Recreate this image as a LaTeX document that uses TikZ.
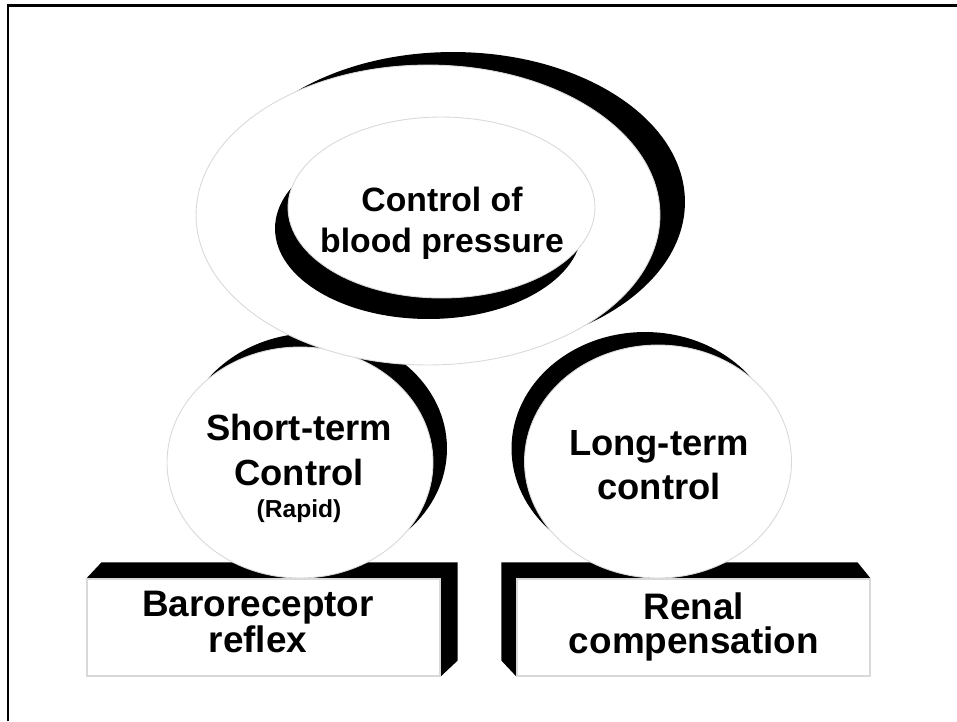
\documentclass[tikz,border=0pt]{standalone}
\usepackage{fontspec}
\setmainfont{Liberation Sans}
\usetikzlibrary{shapes.geometric,shadows,backgrounds}

\begin{document}
\begin{tikzpicture}[x=0.02cm, y=-0.02cm,
    oval/.style={ellipse, inner sep=0pt, fill=white, draw=gray!30, line width=0.5pt},
    facebox/.style={rectangle, inner sep=0pt, fill=white, draw=gray!30, line width=0.7pt,
        minimum width=7.06cm, minimum height=1.94cm},
    bigtext/.style={align=center, inner sep=0pt, font=\bfseries\fontsize{20.7}{25.2}\selectfont},
    boxtext/.style={align=center, inner sep=0pt, font=\bfseries\fontsize{21}{19.3}\selectfont}]
    \useasboundingbox (0,0) rectangle (957,721);

    % Frame
    \draw[line width=1.4pt] (8,721) -- (8,5.5) -- (957,5.5);

    % Boxes
    \node[facebox] (baro) at (263.5,627.5) {};
    \node[facebox] (renal) at (693.5,627.5) {};
    \begin{scope}[on background layer]
        \fill (baro.north west) -- ++(15,-16) -- ([shift={(17,-16)}]baro.north east)
            -- ([shift={(17,-16)}]baro.south east) -- (baro.south east) -- (baro.north east) -- cycle;
        \fill (renal.north east) -- ++(-13,-16) -- ([shift={(-15,-16)}]renal.north west)
            -- ([shift={(-15,-16)}]renal.south west) -- (renal.south west) -- (renal.north west) -- cycle;
    \end{scope}
    \node[boxtext] (baro-text) at (258,622) {Baroreceptor\\reflex};
    \node[boxtext] (renal-text) at (694,627) {Renal\\compensation};

    % Short-term and long-term
    \node[oval, minimum width=5.32cm, minimum height=4.62cm,
        general shadow={fill=black, shadow xshift=0.28cm, shadow yshift=0.28cm}] (short) at (300,462.5) {};
    \node[oval, minimum width=5.34cm, minimum height=4.66cm,
        general shadow={fill=black, shadow xshift=-0.26cm, shadow yshift=0.26cm}] (long) at (658,461.5) {};
    \node[bigtext] (short-text) at (299,468.5)
        {Short-term\\Control\\[-6.8pt]{\fontsize{14}{16}\selectfont (Rapid)}};
    \node[bigtext] (long-text) at (659,465) {Long-term\\control};

    % Control of blood pressure
    \node[oval, minimum width=9.28cm, minimum height=6.0cm,
        general shadow={fill=black, shadow xshift=0.5cm, shadow yshift=0.26cm}] (ring) at (428,215) {};
    \node[oval, minimum width=6.14cm, minimum height=3.62cm,
        general shadow={fill=black, shadow xshift=-0.26cm, shadow yshift=-0.42cm}] (inner) at (441.5,207.5) {};
    \node[align=center, inner sep=0pt, font=\bfseries\fontsize{19.2}{23.2}\selectfont]
        (bp-text) at (442,223.5) {Control of\\blood pressure};
\end{tikzpicture}
\end{document}
